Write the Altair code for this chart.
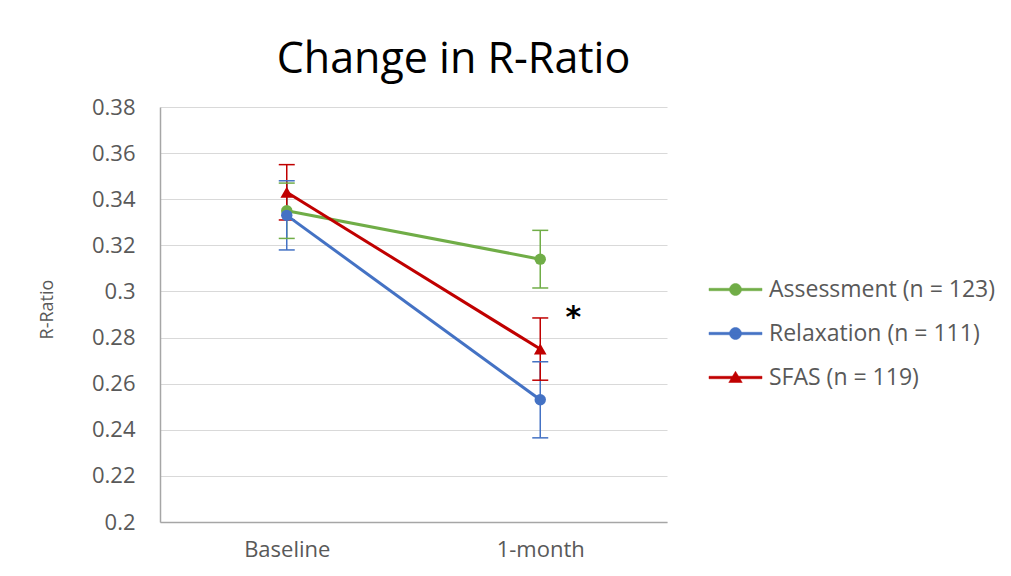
import altair as alt
import pandas as pd

# Group means and error-bar half-widths for each time point
timepoints = ["Baseline", "1-month"]
groups = ["Assessment (n = 123)", "Relaxation (n = 111)", "SFAS (n = 119)"]
colors = ["#70AD47", "#4472C4", "#C00000"]

assessment_mean = [0.335, 0.314]
relaxation_mean = [0.333, 0.253]
sfas_mean = [0.343, 0.275]

assessment_err = [0.012, 0.0125]
relaxation_err = [0.015, 0.0165]
sfas_err = [0.012, 0.0135]

y_ticks = [0.2, 0.22, 0.24, 0.26, 0.28, 0.3, 0.32, 0.34, 0.36, 0.38]

# Significance marker next to the 1-month cluster
star_time = "1-month"
star_value = 0.29
star_text = "*"

rows = []
for g, means, errs in [
    (groups[0], assessment_mean, assessment_err),
    (groups[1], relaxation_mean, relaxation_err),
    (groups[2], sfas_mean, sfas_err),
]:
    for t, m, e in zip(timepoints, means, errs):
        rows.append({"time": t, "group": g, "mean": m, "lo": m - e, "hi": m + e})
df = pd.DataFrame(rows)

FONT = "Open Sans"
GREY = "#595959"

x_enc = alt.X(
    "time:N",
    sort=timepoints,
    scale=alt.Scale(type="point", padding=0.5),
    axis=alt.Axis(
        title=None, labelAngle=0, ticks=False, grid=False,
        labelFont=FONT, labelFontSize=22, labelColor=GREY, labelPadding=17,
        domainColor="#A6A6A6", domainWidth=1.5,
    ),
)
y_scale = alt.Scale(domain=[0.2, 0.38], nice=False, zero=False)
color_scale = alt.Scale(domain=groups, range=colors)
color_enc = alt.Color("group:N", scale=color_scale)

# Legend symbols: a short line segment with the series marker on it
line_circle = "M-5.3,-0.25H5.3V0.25H-5.3ZM-1.2,0A1.2,1.2,0,1,1,1.2,0A1.2,1.2,0,1,1,-1.2,0"
line_triangle = "M-5.3,-0.25H5.3V0.25H-5.3ZM0,-1.25L1.35,1L-1.35,1Z"
legend_shapes = [line_circle, line_circle, line_triangle]

legend = alt.Legend(
    title=None, orient="none", legendX=564, legendY=171,
    symbolSize=100, labelOffset=22, symbolOpacity=1, symbolStrokeWidth=0.5,
    labelFont=FONT, labelFontSize=23, labelColor=GREY, labelLimit=400,
    rowPadding=20, padding=0,
)

base = alt.Chart(df)

rules = base.mark_rule(strokeWidth=1.5, opacity=1).encode(
    x=x_enc, y=alt.Y("lo:Q", scale=y_scale), y2="hi:Q", color=color_enc,
)
caps_lo = base.mark_tick(thickness=1.5, size=16, opacity=1).encode(
    x=x_enc, y=alt.Y("lo:Q", scale=y_scale), color=color_enc,
)
caps_hi = base.mark_tick(thickness=1.5, size=16, opacity=1).encode(
    x=x_enc, y=alt.Y("hi:Q", scale=y_scale), color=color_enc,
)

lines = base.mark_line(strokeWidth=3, opacity=1).encode(
    x=x_enc,
    y=alt.Y(
        "mean:Q", scale=y_scale, title="R-Ratio",
        axis=alt.Axis(
            values=y_ticks, format=".2~f", ticks=False,
            labelFont=FONT, labelFontSize=22, labelColor=GREY, labelPadding=25,
            titleFont=FONT, titleFontSize=18, titleColor=GREY, titleFontWeight="normal",
            titleX=-104, titleY=202, titleAngle=-90,
            gridColor="#D9D9D9", gridWidth=1.2,
            domainColor="#A6A6A6", domainWidth=1.5,
        ),
    ),
    color=color_enc,
    detail="group:N",
)

circles = base.transform_filter(alt.datum.group != groups[2]).mark_point(
    filled=True, size=130, opacity=1, shape="circle"
).encode(x=x_enc, y=alt.Y("mean:Q", scale=y_scale), color=color_enc)

triangles = base.transform_filter(alt.datum.group == groups[2]).mark_point(
    filled=True, size=160, opacity=1, shape="triangle-up"
).encode(x=x_enc, y=alt.Y("mean:Q", scale=y_scale), color=color_enc)

# Layer that carries only the legend (its rows are filtered away)
legend_layer = base.transform_filter("false").mark_point(filled=True, opacity=1).encode(
    x=x_enc,
    y=alt.Y("mean:Q", scale=y_scale),
    color=alt.Color("group:N", scale=color_scale, legend=legend),
    shape=alt.Shape("group:N", scale=alt.Scale(domain=groups, range=legend_shapes), legend=legend),
)

star_df = pd.DataFrame({"time": [star_time], "value": [star_value], "label": [star_text]})
star = alt.Chart(star_df).mark_text(
    dx=33, dy=3, fontSize=30, fontWeight="bold", font="DejaVu Sans", color="black", baseline="middle"
).encode(x=x_enc, y=alt.Y("value:Q", scale=y_scale), text="label:N")

chart = (
    alt.layer(legend_layer, rules, caps_lo, caps_hi, lines, circles, triangles, star)
    .properties(
        width=507, height=415,
        padding={"left": 160, "top": 107, "right": 344, "bottom": 54},
        autosize=alt.AutoSizeParams(type="none"),
        title=alt.TitleParams(
            "Change in R-Ratio", font=FONT, fontSize=43, fontWeight="normal",
            color="black", anchor="middle", dx=40, offset=14,
        ),
        background="white",
    )
    .configure_view(stroke=None)
)

chart.save("out.html", embed_options={"renderer": "svg", "actions": False})
